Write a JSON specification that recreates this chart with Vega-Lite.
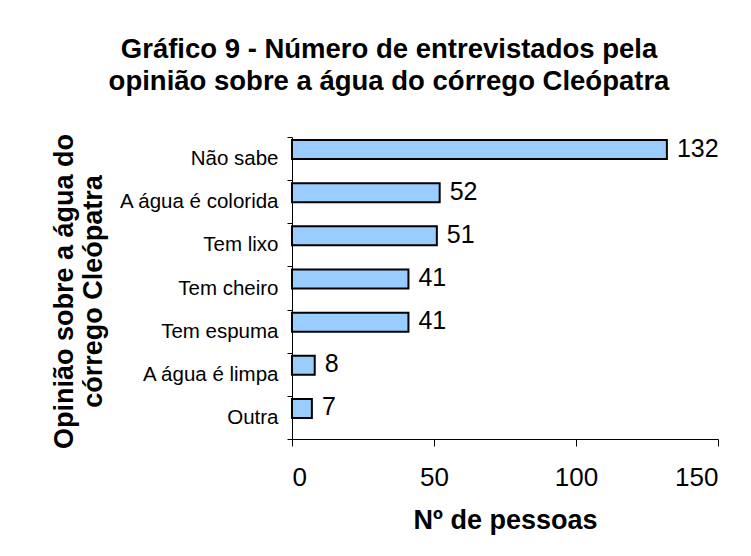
{
  "$schema": "https://vega.github.io/schema/vega-lite/v6.json",
  "width": 426,
  "height": 302,
  "autosize": {"type": "none"},
  "padding": {"left": 292, "top": 137, "right": 33, "bottom": 117},
  "background": "white",
  "title": {
    "text": ["Gráfico 9 - Número de entrevistados pela", "opinião sobre a água do córrego Cleópatra"],
    "font": "Liberation Sans",
    "fontSize": 27.5,
    "fontWeight": "bold",
    "color": "black",
    "lineHeight": 32,
    "anchor": "middle",
    "frame": "group",
    "dx": -116,
    "baseline": "bottom",
    "offset": 4
  },
  "data": {
    "values": [
      {"opiniao": "Não sabe", "pessoas": 132},
      {"opiniao": "A água é colorida", "pessoas": 52},
      {"opiniao": "Tem lixo", "pessoas": 51},
      {"opiniao": "Tem cheiro", "pessoas": 41},
      {"opiniao": "Tem espuma", "pessoas": 41},
      {"opiniao": "A água é limpa", "pessoas": 8},
      {"opiniao": "Outra", "pessoas": 7}
    ]
  },
  "encoding": {
    "y": {
      "field": "opiniao",
      "type": "nominal",
      "sort": null,
      "scale": {"paddingInner": 0, "paddingOuter": 0},
      "axis": {
        "title": ["Opinião sobre a água do", "córrego Cleópatra"],
        "titleFont": "Liberation Sans",
        "titleFontSize": 27,
        "titleFontWeight": "bold",
        "titleColor": "black",
        "titleLineHeight": 29,
        "titleAngle": -90,
        "titleBaseline": "middle",
        "titleAlign": "center",
        "titleX": -228,
        "titleY": 154,
        "labelFont": "Liberation Sans",
        "labelFontSize": 20.5,
        "labelColor": "black",
        "labelPadding": 9,
        "tickBand": "extent",
        "tickSize": 5,
        "tickColor": "black",
        "domainColor": "black",
        "grid": false
      }
    },
    "x": {
      "field": "pessoas",
      "type": "quantitative",
      "scale": {"domain": [0, 150], "nice": false},
      "axis": {
        "values": [0, 50, 100, 150],
        "title": "Nº de pessoas",
        "titleFont": "Liberation Sans",
        "titleFontSize": 27,
        "titleFontWeight": "bold",
        "titleColor": "black",
        "titlePadding": 17,
        "labelFont": "Liberation Sans",
        "labelFontSize": 26,
        "labelColor": "black",
        "labelPadding": 18,
        "tickSize": 7,
        "tickColor": "black",
        "domainColor": "black",
        "grid": false
      }
    }
  },
  "layer": [
    {
      "mark": {"type": "bar", "height": 19, "yOffset": -9, "fill": "#99CCFF", "stroke": "black", "strokeWidth": 2}
    },
    {
      "mark": {"type": "text", "align": "left", "baseline": "middle", "dx": 10, "yOffset": -10, "font": "Liberation Sans", "fontSize": 25, "color": "black"},
      "encoding": {"text": {"field": "pessoas", "type": "quantitative"}}
    }
  ],
  "config": {"view": {"stroke": null}}
}
